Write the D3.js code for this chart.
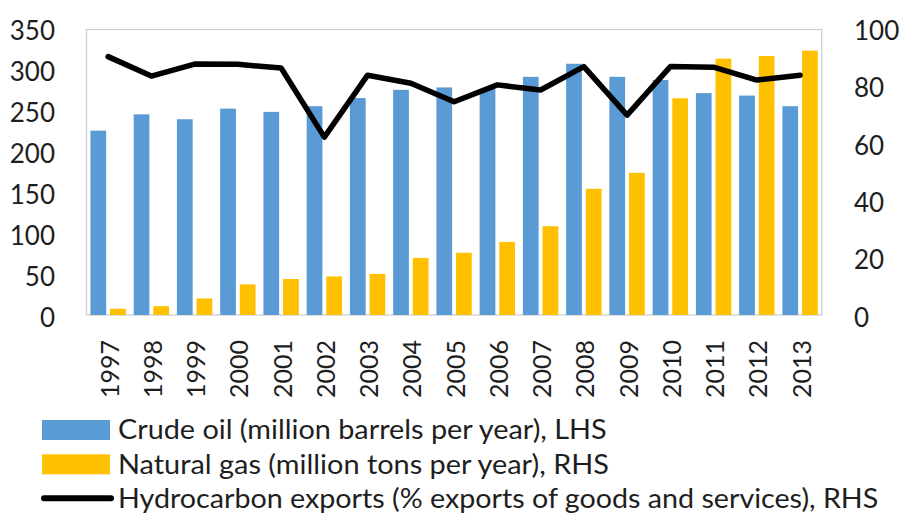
<!DOCTYPE html>
<html>
<head>
<meta charset="utf-8">
<script src="https://cdn.jsdelivr.net/npm/d3@7"></script>
<style>
  html, body { margin: 0; padding: 0; background: #fff; }
  svg { display: block; }
  text { font-family: Lato, "Noto Sans", sans-serif; fill: #1e1e1e; }
</style>
</head>
<body>
<svg id="chart" width="904" height="516"></svg>
<script>
const years = ["1997","1998","1999","2000","2001","2002","2003","2004","2005","2006","2007","2008","2009","2010","2011","2012","2013"];
const crudeOil = [226, 246, 240, 253, 249, 256, 266, 276, 279, 277, 292, 308, 292, 288, 272, 269, 256];
const naturalGas = [2.2, 3.1, 5.8, 10.7, 12.6, 13.5, 14.4, 20.0, 21.8, 25.6, 31.1, 44.2, 49.8, 75.9, 89.8, 90.7, 92.6];
const hydroExports = [90.5, 83.7, 87.9, 87.8, 86.5, 62.3, 84.0, 81.2, 74.7, 80.6, 78.8, 87.0, 70.0, 87.0, 86.8, 82.3, 84.0];
const leftTicks = [0, 50, 100, 150, 200, 250, 300, 350];
const rightTicks = [0, 20, 40, 60, 80, 100];
const legendLabels = [
  "Crude oil (million barrels per year), LHS",
  "Natural gas (million tons per year), RHS",
  "Hydrocarbon exports (% exports of goods and services), RHS"
];

const svg = d3.select("#chart");
const plot = {left: 86.5, right: 821.7, top: 29.5, bottom: 315};

const x0 = d3.scaleBand().domain(years).range([plot.left, plot.right]).paddingInner(0).paddingOuter(0);
const x1 = d3.scaleBand().domain(["oil", "gas"]).range([0, x0.bandwidth()]).padding(0.2);
const yL = d3.scaleLinear().domain([0, 350]).range([plot.bottom, plot.top]);
const yR = d3.scaleLinear().domain([0, 100]).range([plot.bottom, plot.top]);

// plot border
svg.append("rect")
  .attr("x", plot.left).attr("y", plot.top)
  .attr("width", plot.right - plot.left).attr("height", plot.bottom - plot.top)
  .attr("fill", "none").attr("stroke", "#d0d0d0").attr("stroke-width", 1.3);

// bars
const g = svg.append("g");
g.selectAll("rect.oil").data(years).join("rect")
  .attr("class", "oil")
  .attr("x", d => x0(d) + x1("oil"))
  .attr("width", x1.bandwidth())
  .attr("y", (d, i) => yL(crudeOil[i]))
  .attr("height", (d, i) => yL(0) - yL(crudeOil[i]))
  .attr("fill", "#5B9BD5");
g.selectAll("rect.gas").data(years).join("rect")
  .attr("class", "gas")
  .attr("x", d => x0(d) + x1("gas"))
  .attr("width", x1.bandwidth())
  .attr("y", (d, i) => yR(naturalGas[i]))
  .attr("height", (d, i) => yR(0) - yR(naturalGas[i]))
  .attr("fill", "#FFC000");

// line
const line = d3.line()
  .x((d, i) => x0(years[i]) + x0.bandwidth() / 2)
  .y(d => yR(d));
svg.append("path")
  .datum(hydroExports)
  .attr("d", line)
  .attr("fill", "none")
  .attr("stroke", "#000")
  .attr("stroke-width", 5.5)
  .attr("stroke-linejoin", "round")
  .attr("stroke-linecap", "round");

// left axis
const axL = d3.axisLeft(yL).tickValues(leftTicks).tickSize(0).tickPadding(0);
const gL = svg.append("g").attr("transform", "translate(55,0)").call(axL);
gL.select(".domain").remove();
gL.selectAll("text").attr("font-size", 26).attr("fill", "#1e1e1e")
  .attr("font-family", "Lato, 'Noto Sans', sans-serif").attr("dy", "0.36em")
  .attr("transform", d => `translate(0,${d / 350 * -1.5 + 2})`);

// right axis
const axR = d3.axisRight(yR).tickValues(rightTicks).tickSize(0).tickPadding(0);
const gR = svg.append("g").attr("transform", "translate(854,0)").call(axR);
gR.select(".domain").remove();
gR.selectAll("text").attr("font-size", 26).attr("fill", "#1e1e1e")
  .attr("font-family", "Lato, 'Noto Sans', sans-serif").attr("dy", "0.36em")
  .attr("transform", d => `translate(0,${d / 100 * -1.5 + 2})`);

// x axis labels (rotated)
const axX = d3.axisBottom(x0).tickSize(0).tickPadding(0);
const gX = svg.append("g").attr("transform", `translate(0,0)`).call(axX);
gX.select(".domain").remove();
gX.selectAll(".tick").attr("transform", d => `translate(${x0(d) + x0.bandwidth() / 2 + 1.5},340)`);
gX.selectAll("text")
  .attr("font-size", 25).attr("fill", "#1e1e1e")
  .attr("font-family", "Lato, 'Noto Sans', sans-serif")
  .attr("y", 0).attr("dy", "0.36em")
  .attr("transform", "rotate(-90)")
  .attr("text-anchor", "end");

// legend
const lg = svg.append("g");
const rowY = [430, 464.3, 498.3];
const colors = ["#5B9BD5", "#FFC000"];
const textEnds = [606.7, 609, 878.3];
[0, 1].forEach(i => {
  lg.append("rect").attr("x", 42).attr("y", rowY[i] - 10).attr("width", 68).attr("height", 20).attr("fill", colors[i]);
});
lg.append("line").attr("x1", 44).attr("x2", 111).attr("y1", rowY[2]).attr("y2", rowY[2])
  .attr("stroke", "#000").attr("stroke-width", 6).attr("stroke-linecap", "round");
legendLabels.forEach((t, i) => {
  lg.append("text").attr("x", 118).attr("y", rowY[i]).attr("dy", "0.36em")
    .attr("font-size", 26)
    .attr("textLength", textEnds[i] - 118)
    .attr("lengthAdjust", "spacingAndGlyphs")
    .text(t);
});
</script>
</body>
</html>
